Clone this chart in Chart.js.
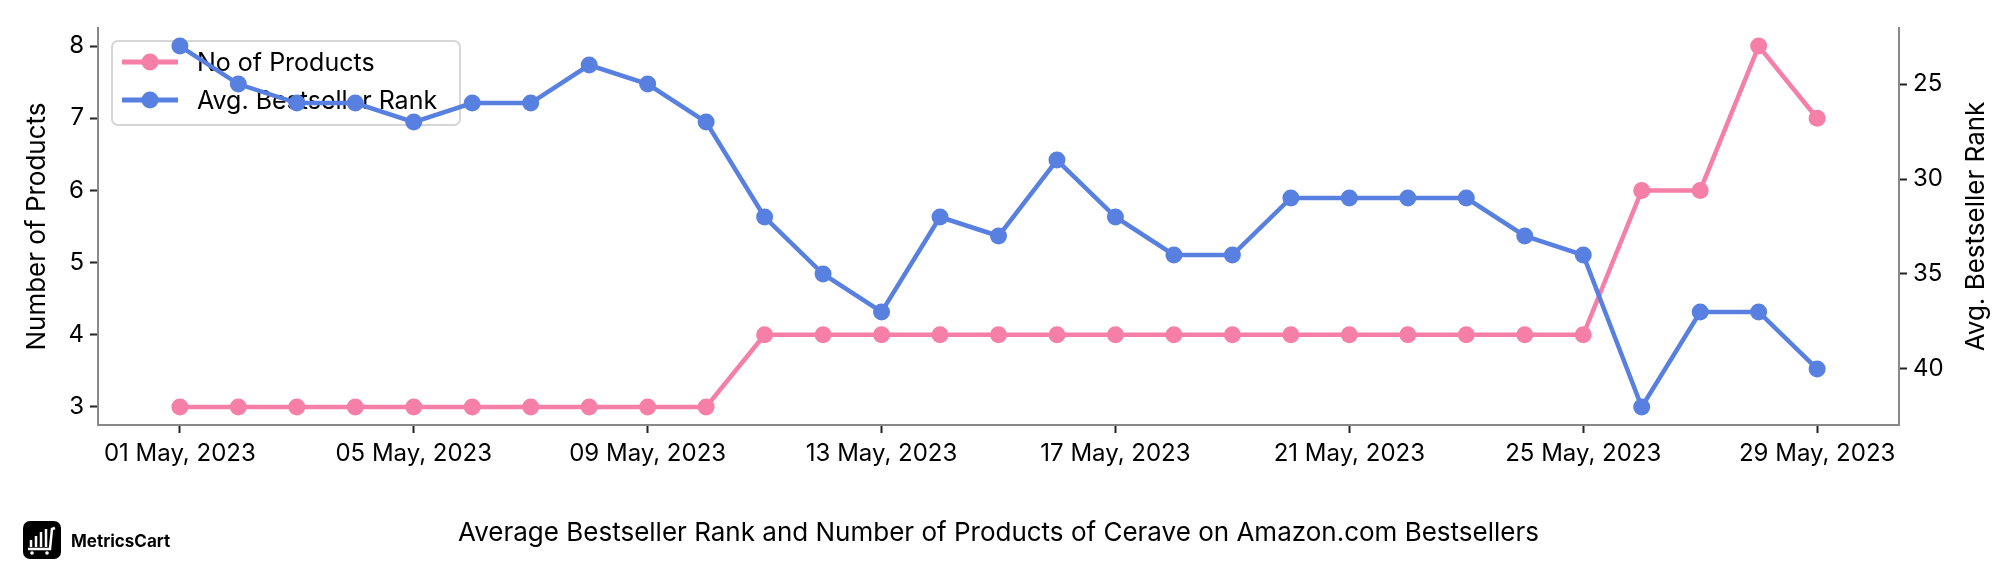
<!DOCTYPE html>
<html>
<head>
<meta charset="utf-8">
<script src="https://cdn.jsdelivr.net/npm/chart.js@4.4.0/dist/chart.umd.min.js"></script>
<style>
  html, body { margin: 0; padding: 0; background: #fff; }
  #wrap { width: 2016px; height: 576px; }
</style>
</head>
<body>
<div id="wrap"><canvas id="chart" width="2016" height="576"></canvas></div>
<script>
const days = [1,2,3,4,5,6,7,8,9,10,11,12,13,14,15,16,17,18,19,20,21,22,23,24,25,26,27,28,29];
const noOfProducts = [3,3,3,3,3,3,3,3,3,3,4,4,4,4,4,4,4,4,4,4,4,4,4,4,4,6,6,8,7];
const avgRank = [23,25,26,26,27,26,26,24,25,27,32,35,37,32,33,29,32,34,34,31,31,31,31,33,34,42,37,37,40];
const xTicks = [1,5,9,13,17,21,25,29];
const xTickLabels = ['01 May, 2023','05 May, 2023','09 May, 2023','13 May, 2023','17 May, 2023','21 May, 2023','25 May, 2023','29 May, 2023'];
const leftTicks = [3,4,5,6,7,8];
const rightTicks = [25,30,35,40];
const chartTitle = 'Average Bestseller Rank and Number of Products of Cerave on Amazon.com Bestsellers';
const leftTitle = 'Number of Products';
const rightTitle = 'Avg. Bestseller Rank';

const PINK = '#f67fa8';
const BLUE = '#5880e0';
const FONT = 'Inter, "Noto Sans", sans-serif';

const legendItems = [
  { label: 'No of Products', color: PINK },
  { label: 'Avg. Bestseller Rank', color: BLUE }
];

// legend drawn under the lines, like the original
const legendPlugin = {
  id: 'boxLegend',
  beforeDatasetsDraw(chart) {
    const ctx = chart.ctx;
    ctx.save();
    ctx.beginPath();
    ctx.roundRect(112, 41, 348, 84, 6);
    ctx.fillStyle = 'rgba(255,255,255,0.8)';
    ctx.fill();
    ctx.lineWidth = 2;
    ctx.strokeStyle = '#d6d6d6';
    ctx.stroke();
    legendItems.forEach((it, i) => {
      const y = 62 + i * 38;
      ctx.strokeStyle = it.color;
      ctx.lineWidth = 5;
      ctx.beginPath();
      ctx.moveTo(122, y);
      ctx.lineTo(178, y);
      ctx.stroke();
      ctx.fillStyle = it.color;
      ctx.beginPath();
      ctx.arc(150, y, 8.5, 0, Math.PI * 2);
      ctx.fill();
      ctx.fillStyle = '#000';
      ctx.font = '25px ' + FONT;
      ctx.textBaseline = 'middle';
      ctx.textAlign = 'left';
      ctx.fillText(it.label, 197, y + 1);
    });
    ctx.restore();
  }
};

const textPlugin = {
  id: 'texts',
  afterDraw(chart) {
    const ctx = chart.ctx;
    const area = chart.chartArea;
    const midY = (area.top + area.bottom) / 2;
    ctx.save();
    ctx.fillStyle = '#000';
    ctx.font = '26px ' + FONT;
    ctx.textAlign = 'center';
    ctx.textBaseline = 'middle';
    ctx.fillText(chartTitle, (area.left + area.right) / 2, 533);

    // axis titles, both read bottom to top
    [[37, leftTitle], [1976, rightTitle]].forEach(t => {
      ctx.save();
      ctx.translate(t[0], midY);
      ctx.rotate(-Math.PI / 2);
      ctx.fillText(t[1], 0, 0);
      ctx.restore();
    });

    // logo
    ctx.beginPath();
    ctx.roundRect(23, 521, 38, 38, 7);
    ctx.fillStyle = '#000';
    ctx.fill();
    ctx.strokeStyle = '#fff';
    ctx.fillStyle = '#fff';
    ctx.lineWidth = 2.5;
    [[31, 540], [36, 536], [41, 532], [46, 529]].forEach(b => {
      ctx.beginPath();
      ctx.moveTo(b[0], 547);
      ctx.lineTo(b[0], b[1]);
      ctx.stroke();
    });
    ctx.beginPath();
    ctx.moveTo(28, 549);
    ctx.lineTo(50, 549);
    ctx.lineTo(52, 529);
    ctx.lineTo(55, 528);
    ctx.stroke();
    ctx.beginPath(); ctx.arc(32, 553, 1.8, 0, Math.PI * 2); ctx.fill();
    ctx.beginPath(); ctx.arc(47, 553, 1.8, 0, Math.PI * 2); ctx.fill();

    ctx.fillStyle = '#000';
    ctx.font = 'bold 17px ' + FONT;
    ctx.textAlign = 'left';
    ctx.fillText('MetricsCart', 71, 542);
    ctx.restore();
  }
};

const tickFont = { family: FONT, size: 24 };
const tickGrid = { drawOnChartArea: false, drawTicks: true, tickLength: 8, tickWidth: 2, color: '#222' };
const spine = { color: '#888', width: 2 };

new Chart(document.getElementById('chart').getContext('2d'), {
  type: 'line',
  data: {
    datasets: [
      {
        label: 'No of Products',
        data: days.map((d, i) => ({ x: d, y: noOfProducts[i] })),
        yAxisID: 'y',
        borderColor: PINK,
        backgroundColor: PINK,
        borderWidth: 4.5,
        pointRadius: 8.5,
        pointHoverRadius: 8.5,
        pointBorderWidth: 0,
        order: 1
      },
      {
        label: 'Avg. Bestseller Rank',
        data: days.map((d, i) => ({ x: d, y: avgRank[i] })),
        yAxisID: 'y2',
        borderColor: BLUE,
        backgroundColor: BLUE,
        borderWidth: 4.5,
        pointRadius: 8.5,
        pointHoverRadius: 8.5,
        pointBorderWidth: 0,
        order: 0
      }
    ]
  },
  options: {
    responsive: false,
    animation: false,
    layout: { padding: { top: 28, left: 0, right: 0, bottom: 0 } },
    plugins: { legend: { display: false }, tooltip: { enabled: false } },
    scales: {
      x: {
        type: 'linear',
        min: -0.4,
        max: 30.4,
        afterBuildTicks: s => { s.ticks = xTicks.map(v => ({ value: v })); },
        afterFit: s => { s.height = 151; },
        ticks: {
          callback: v => xTickLabels[xTicks.indexOf(v)],
          color: '#000',
          font: tickFont,
          padding: 6,
          maxRotation: 0,
          autoSkip: false
        },
        grid: tickGrid,
        border: spine
      },
      y: {
        position: 'left',
        min: 2.75,
        max: 8.25,
        afterBuildTicks: s => { s.ticks = leftTicks.map(v => ({ value: v })); },
        afterFit: s => { s.width = 98; },
        ticks: { color: '#000', font: tickFont, padding: 6 },
        grid: tickGrid,
        border: spine
      },
      y2: {
        position: 'right',
        reverse: true,
        min: 22.05,
        max: 42.95,
        afterBuildTicks: s => { s.ticks = rightTicks.map(v => ({ value: v })); },
        afterFit: s => { s.width = 117; },
        ticks: { color: '#000', font: tickFont, padding: 6 },
        grid: tickGrid,
        border: spine
      }
    }
  },
  plugins: [legendPlugin, textPlugin]
});
</script>
</body>
</html>
